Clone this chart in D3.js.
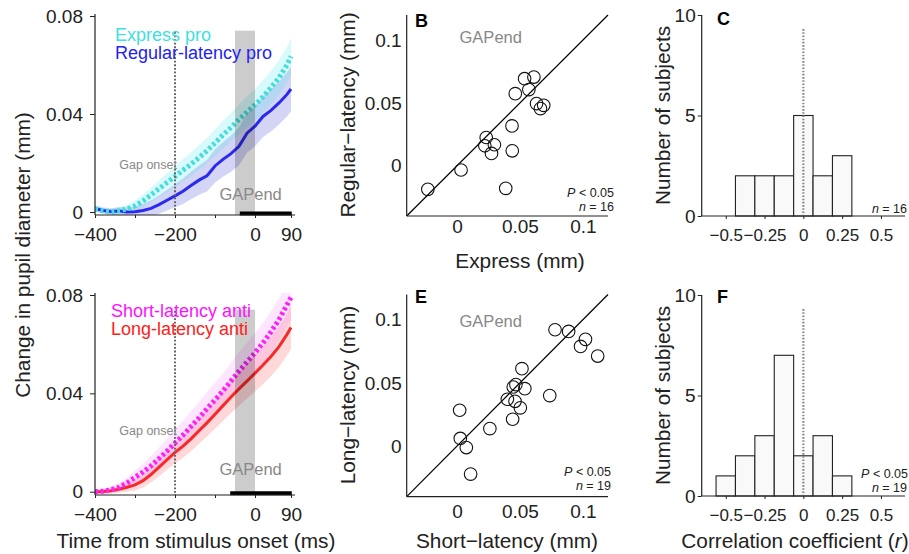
<!DOCTYPE html>
<html><head><meta charset="utf-8">
<script src="https://cdn.jsdelivr.net/npm/d3@7"></script>
<style>
body{margin:0;background:#fff;}
svg{display:block;font-family:"Liberation Sans",Arial,Helvetica,sans-serif;}
</style></head><body>
<script>
// ---------------- DATA ----------------
const times = [-400,-380,-360,-340,-320,-300,-280,-260,-240,-220,-200,-180,-160,-140,-120,-100,-80,-60,-40,-20,0,20,40,60,80,90];
const expressPro = [0.0012,0.0005,0.0000,0.0005,0.0012,0.0025,0.0045,0.0070,0.0095,0.0120,0.0145,0.0170,0.0195,0.0222,0.0250,0.0282,0.0315,0.0345,0.0378,0.0408,0.0437,0.0470,0.0508,0.0548,0.0600,0.0635];
const expressSem = [0.0010,0.0010,0.0012,0.0015,0.0018,0.0022,0.0026,0.0030,0.0034,0.0038,0.0042,0.0045,0.0048,0.0051,0.0053,0.0055,0.0057,0.0059,0.0061,0.0063,0.0065,0.0067,0.0069,0.0071,0.0074,0.0075];
const regularPro = [0.0015,0.0006,0.0002,0.0004,0.0000,0.0001,0.0006,0.0015,0.0030,0.0048,0.0066,0.0085,0.0108,0.0130,0.0148,0.0188,0.0215,0.0238,0.0268,0.0322,0.0350,0.0390,0.0415,0.0445,0.0480,0.0502];
const regularSem = [0.0012,0.0012,0.0013,0.0015,0.0018,0.0022,0.0027,0.0032,0.0037,0.0042,0.0047,0.0052,0.0056,0.0060,0.0064,0.0068,0.0071,0.0074,0.0077,0.0080,0.0082,0.0084,0.0086,0.0088,0.0090,0.0091];
const shortAnti = [0.0000,0.0002,0.0008,0.0018,0.0035,0.0058,0.0080,0.0105,0.0135,0.0165,0.0198,0.0230,0.0265,0.0300,0.0338,0.0373,0.0410,0.0450,0.0490,0.0528,0.0565,0.0605,0.0650,0.0700,0.0760,0.0790];
const shortSem = [0.0008,0.0010,0.0013,0.0017,0.0022,0.0028,0.0034,0.0040,0.0045,0.0050,0.0055,0.0059,0.0062,0.0065,0.0068,0.0070,0.0072,0.0074,0.0076,0.0078,0.0080,0.0082,0.0084,0.0086,0.0088,0.0090];
const longAnti = [0.0000,0.0001,0.0004,0.0010,0.0018,0.0028,0.0045,0.0070,0.0100,0.0130,0.0160,0.0185,0.0215,0.0248,0.0280,0.0315,0.0350,0.0385,0.0418,0.0450,0.0482,0.0515,0.0550,0.0590,0.0640,0.0668];
const longSem = [0.0008,0.0009,0.0011,0.0014,0.0018,0.0023,0.0028,0.0033,0.0037,0.0041,0.0044,0.0047,0.0050,0.0053,0.0056,0.0059,0.0062,0.0065,0.0068,0.0071,0.0074,0.0077,0.0080,0.0083,0.0086,0.0088];

const timeTicks = [-400,-300,-200,-100,0,90];
const timeTickLabels = ["\u2212400","","\u2212200","","0","90"];
const diamTicks = [0,0.04,0.08];
const diamTickLabels = ["0","0.04","0.08"];
const gapOnset = -200;
const gapEndWindow = [-50,0];
const sigWindowA = [-38,92];
const sigWindowD = [-62,92];

const expressB = [-0.0232,0.0032,0.0232,0.0221,0.0297,0.0274,0.0387,0.0437,0.0439,0.0463,0.0537,0.0611,0.0571,0.0632,0.0663,0.0689];
const regularB = [-0.0188,-0.0034,0.0225,0.0159,0.0167,0.0098,-0.0180,0.0317,0.0119,0.0574,0.0693,0.0706,0.0606,0.0495,0.0455,0.0481];
const shortE = [0.0021,0.0026,0.0074,0.0108,0.0261,0.0400,0.0442,0.0461,0.0447,0.0468,0.0503,0.0516,0.0539,0.0737,0.0779,0.0887,0.0982,0.1021,0.1118];
const longE = [0.0284,0.0061,-0.0011,-0.0221,0.0139,0.0371,0.0213,0.0355,0.0468,0.0487,0.0303,0.0613,0.0455,0.0400,0.0921,0.0908,0.0789,0.0845,0.0713];
const scatterTicks = [0,0.05,0.1];
const scatterTickLabels = ["0","0.05","0.1"];

const binCenters = [-0.5,-0.375,-0.25,-0.125,0,0.125,0.25,0.375,0.5];
const countsC = [0,2,2,2,5,2,3,0,0];
const countsF = [1,2,3,7,2,3,1,0,0];
const binWidth = 0.125;
const rTicks = [-0.5,-0.25,0,0.25,0.5];
const rTickLabels = ["\u22120.5","\u22120.25","0","0.25","0.5"];
const countTicks = [0,5,10];

// ---------------- DRAW ----------------
const svg = d3.select("body").append("svg").attr("width",909).attr("height",554);
const AX = "#222";
const TICKFONT = "19px";
const TITLEFONT = "20.8px";

function styleAxis(g,size){
  g.attr("color",AX).style("font-size",size||TICKFONT).style("font-family","'Liberation Sans',Arial,sans-serif");
  g.select(".domain").remove();
  g.selectAll(".tick line").attr("stroke-width",1);
}
function hline(x1,x2,y){ svg.append("line").attr("x1",x1).attr("x2",x2).attr("y1",y).attr("y2",y).attr("stroke",AX).attr("stroke-width",1.2); }
function vline(x,y1,y2){ svg.append("line").attr("x1",x).attr("x2",x).attr("y1",y1).attr("y2",y2).attr("stroke",AX).attr("stroke-width",1.2); }
function label(txt,x,y,size,opts={}){
  const t = svg.append("text").attr("x",x).attr("y",y).style("font-size",size).attr("fill",opts.fill||AX)
    .attr("text-anchor",opts.anchor||"start");
  if(opts.bold) t.style("font-weight","bold");
  if(opts.rotate) t.attr("transform",`rotate(-90,${x},${y})`);
  return t.text(txt);
}

let clipN = 0;
function timePanel(o){
  const x = d3.scaleLinear().domain([-400,90]).range([95,291]);
  const y = d3.scaleLinear().domain([0,0.08]).range([o.y0,o.y8]);
  const cid = "clip"+(clipN++);
  svg.append("clipPath").attr("id",cid).append("rect")
    .attr("x",95).attr("y",o.top).attr("width",200).attr("height",o.axisY-o.top);
  const pg = svg.append("g").attr("clip-path",`url(#${cid})`);
  o.series.forEach(s=>{
    const area = d3.area().x((d,i)=>x(times[i])).y0((d,i)=>y(s.mean[i]-s.sem[i])).y1((d,i)=>y(s.mean[i]+s.sem[i]));
    pg.append("path").datum(s.mean).attr("d",area).attr("fill",s.band).attr("fill-opacity",s.bandOp);
  });
  o.series.forEach(s=>{
    const line = d3.line().x((d,i)=>x(times[i])).y(d=>y(d));
    pg.append("path").datum(s.mean).attr("d",line).attr("fill","none").attr("stroke",s.color)
      .attr("stroke-width",s.dashed?5:3).attr("stroke-dasharray",s.dashed?"3,2.6":null);
  });
  // gray window
  svg.append("rect").attr("x",x(gapEndWindow[0])).attr("width",x(gapEndWindow[1])-x(gapEndWindow[0]))
    .attr("y",y(0.074)).attr("height",o.axisY-y(0.074)).attr("fill","#000").attr("fill-opacity",0.2);
  // gap onset dotted
  svg.append("line").attr("x1",x(gapOnset)).attr("x2",x(gapOnset)).attr("y1",y(0.0735)).attr("y2",o.axisY)
    .attr("stroke","#666").attr("stroke-width",2).attr("stroke-dasharray","1.8,1.8");
  // significance bar
  svg.append("line").attr("x1",x(o.sig[0])).attr("x2",x(o.sig[1])).attr("y1",y(-0.0006)).attr("y2",y(-0.0006))
    .attr("stroke","#000").attr("stroke-width",4);
  // texts
  label("Gap onset",x(gapOnset)+2,o.gapTextY,"12.5px",{fill:"#888",anchor:"end"});
  label("GAPend",x(-89),o.gapEndY,"16.5px",{fill:"#888"});
  o.legend.forEach((l,i)=>label(l.name,o.legX,o.legY[i],"18px",{fill:l.color}));
  // axes
  vline(95,o.top,o.axisY); hline(95,295,o.axisY);
  const ya = svg.append("g").attr("transform","translate(95,0)")
    .call(d3.axisLeft(y).tickValues(diamTicks).tickSize(5).tickPadding(7).tickFormat((d,i)=>diamTickLabels[i]));
  styleAxis(ya);
  const xa = svg.append("g").attr("transform",`translate(0,${o.axisY})`)
    .call(d3.axisBottom(x).tickValues(timeTicks).tickSize(3).tickPadding(10).tickFormat((d,i)=>timeTickLabels[i]));
  styleAxis(xa);
  label(o.letter,96,o.letterY,"18px",{bold:true,fill:"#000"});
}

timePanel({y0:212,y8:16,axisY:215,top:14,letterY:27,sig:sigWindowA,gapTextY:169,gapEndY:200,
  legX:115,legY:[40.5,59],
  legend:[{name:"Express pro",color:"#3ee0e0"},{name:"Regular-latency pro",color:"#2323ee"}],
  series:[
    {mean:regularPro,sem:regularSem,color:"#2a2aee",band:"#3a3ad8",bandOp:0.22,dashed:false},
    {mean:expressPro,sem:expressSem,color:"#45dcdc",band:"#40e8e8",bandOp:0.2,dashed:true}
  ]});
timePanel({y0:491.7,y8:295,axisY:495,top:293,letterY:303,sig:sigWindowD,gapTextY:435,gapEndY:475,
  legX:111,legY:[316.7,335],
  legend:[{name:"Short-latency anti",color:"#ff10ff"},{name:"Long-latency anti",color:"#ff2020"}],
  series:[
    {mean:longAnti,sem:longSem,color:"#f52a2a",band:"#ff2020",bandOp:0.17,dashed:false},
    {mean:shortAnti,sem:shortSem,color:"#ff20ff",band:"#ff40ff",bandOp:0.13,dashed:true}
  ]});

function scatterPanel(o){
  const x = d3.scaleLinear().domain([-0.04,0.12]).range([406.7,608]);
  const y = d3.scaleLinear().domain([-0.04,0.12]).range([o.bottom,o.top]);
  svg.append("line").attr("x1",x(-0.04)).attr("y1",y(-0.04)).attr("x2",x(0.12)).attr("y2",y(0.12))
    .attr("stroke","#000").attr("stroke-width",1.2);
  svg.append("g").selectAll("circle").data(o.xs).join("circle")
    .attr("cx",d=>x(d)).attr("cy",(d,i)=>y(o.ys[i])).attr("r",6.3)
    .attr("fill","none").attr("stroke","#111").attr("stroke-width",1.1);
  vline(406.7,o.top,o.bottom); hline(406.7,608,o.bottom);
  const ya = svg.append("g").attr("transform","translate(406.7,0)")
    .call(d3.axisLeft(y).tickValues(scatterTicks).tickSize(0).tickPadding(5).tickFormat((d,i)=>scatterTickLabels[i]));
  styleAxis(ya);
  const xa = svg.append("g").attr("transform",`translate(0,${o.bottom})`)
    .call(d3.axisBottom(x).tickValues(scatterTicks).tickSize(0).tickPadding(o.xpad).tickFormat((d,i)=>scatterTickLabels[i]));
  styleAxis(xa);
  label(o.letter,415,o.letterY,"18px",{bold:true,fill:"#000"});
  label("GAPend",x(0.002),o.gapY,"16.5px",{fill:"#888"});
  const p = svg.append("text").attr("x",o.statX).attr("y",o.pY).attr("text-anchor","end").style("font-size","12.5px").attr("fill",AX);
  p.append("tspan").style("font-style","italic").text("P");
  p.append("tspan").text(" < 0.05");
  const n = svg.append("text").attr("x",o.statX).attr("y",o.pY+14).attr("text-anchor","end").style("font-size","12.5px").attr("fill",AX);
  n.append("tspan").style("font-style","italic").text("n");
  n.append("tspan").text(" = "+o.xs.length);
}
scatterPanel({xs:expressB,ys:regularB,top:15,bottom:216,letter:"B",letterY:27,gapY:43,statX:614,pY:197,xpad:4});
scatterPanel({xs:shortE,ys:longE,top:294.5,bottom:496.7,letter:"E",letterY:303,gapY:326.5,statX:611,pY:476,xpad:8});

function histPanel(o){
  const x = d3.scaleLinear().domain([-0.655,0.655]).range([701.7,905]);
  const y = d3.scaleLinear().domain([0,10]).range([o.bottom,o.bottom-201]);
  svg.append("g").selectAll("rect").data(o.counts).join("rect")
    .attr("x",(d,i)=>x(binCenters[i]-binWidth/2)).attr("width",x(binWidth)-x(0))
    .attr("y",d=>y(d)).attr("height",d=>y(0)-y(d))
    .attr("fill","#f9f9f9").attr("stroke","#222").attr("stroke-width",1.1);
  svg.append("line").attr("x1",x(0)).attr("x2",x(0)).attr("y1",y(9.3)).attr("y2",y(0))
    .attr("stroke","#888").attr("stroke-width",2.2).attr("stroke-dasharray","1.6,1.6");
  vline(701.7,y(10),o.bottom); hline(701.7,905,o.bottom);
  const ya = svg.append("g").attr("transform","translate(701.7,0)")
    .call(d3.axisLeft(y).tickValues(countTicks).tickSize(4).tickPadding(2).tickFormat(d3.format("d")));
  styleAxis(ya);
  const xa = svg.append("g").attr("transform",`translate(0,${o.bottom})`)
    .call(d3.axisBottom(x).tickValues(rTicks).tickSize(3).tickPadding(10).tickFormat((d,i)=>rTickLabels[i]));
  styleAxis(xa,"17px");
  label(o.letter,717,o.letterY,"18px",{bold:true,fill:"#000"});
  let ny = o.nY;
  if(o.showP){
    const p = svg.append("text").attr("x",908).attr("y",o.nY-14.5).attr("text-anchor","end").style("font-size","12.5px").attr("fill",AX);
    p.append("tspan").style("font-style","italic").text("P");
    p.append("tspan").text(" < 0.05");
  }
  const n = svg.append("text").attr("x",907).attr("y",ny).attr("text-anchor","end").style("font-size","12.5px").attr("fill",AX);
  n.append("tspan").style("font-style","italic").text("n");
  n.append("tspan").text(" = "+d3.sum(o.counts));
}
histPanel({counts:countsC,bottom:216,letter:"C",letterY:25,nY:213,showP:false});
histPanel({counts:countsF,bottom:496,letter:"F",letterY:303,nY:492,showP:true});

// axis titles
label("Change in pupil diameter (mm)",30,255,TITLEFONT,{rotate:true,anchor:"middle"});
label("Time from stimulus onset (ms)",196,548,TITLEFONT,{anchor:"middle"});
label("Regular\u2212latency (mm)",355,115,TITLEFONT,{rotate:true,anchor:"middle"});
label("Express (mm)",520,268,TITLEFONT,{anchor:"middle"});
label("Long\u2212latency (mm)",355,395,TITLEFONT,{rotate:true,anchor:"middle"});
label("Short\u2212latency (mm)",507,548,TITLEFONT,{anchor:"middle"});
label("Number of subjects",670,115.5,TITLEFONT,{rotate:true,anchor:"middle"});
label("Number of subjects",670,395.5,TITLEFONT,{rotate:true,anchor:"middle"});
const cc = svg.append("text").attr("x",795).attr("y",548).attr("text-anchor","middle").style("font-size",TITLEFONT).attr("fill",AX);
cc.append("tspan").text("Correlation coefficient (");
cc.append("tspan").style("font-style","italic").text("r");
cc.append("tspan").text(")");
</script>
</body></html>
